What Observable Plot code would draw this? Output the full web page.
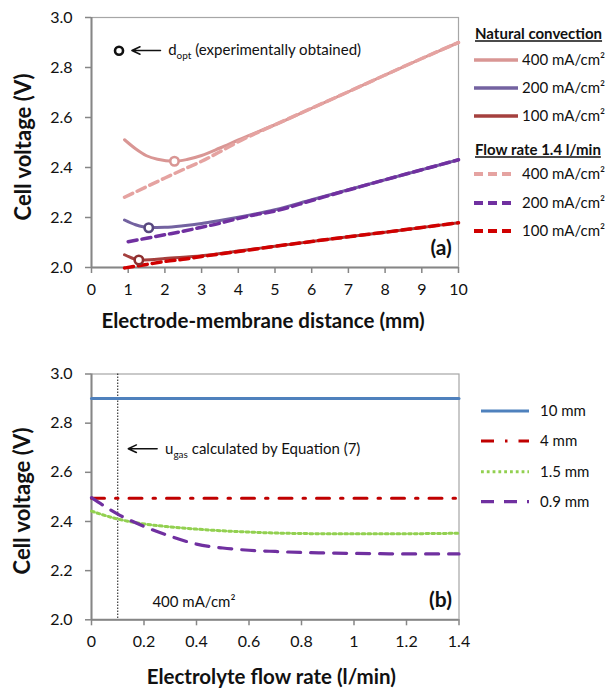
<!DOCTYPE html>
<html><head><meta charset="utf-8">
<script src="https://cdn.jsdelivr.net/npm/d3@7"></script>
<script src="https://cdn.jsdelivr.net/npm/@observablehq/plot@0.6"></script>
<style>
body{margin:0;background:#fff;}
#wrap{position:relative;width:615px;height:696px;font-family:Lato,sans-serif;background:#fff;}
#wrap svg{display:block;position:absolute;left:0;overflow:visible;}
</style></head><body><div id="wrap"></div>
<script>
// ---------- Panel (a) data ----------
const seriesA = ["400 mA/cm²", "200 mA/cm²", "100 mA/cm²"];
const headA = ["Natural convection", "Flow rate 1.4 l/min"];
const titleY = "Cell voltage (V)";
const dNC400 = [0.9,1.2,1.5,1.8,2.25,2.6,3,3.5,4,5,6,7,8,9,10];
const vNC400 = [2.511,2.475,2.447,2.433,2.425,2.432,2.448,2.478,2.51,2.571,2.637,2.703,2.77,2.836,2.9];
const dNC200 = [0.9,1.2,1.56,2,2.5,3,3.5,4,5,6,7,8,9,10];
const vNC200 = [2.19,2.171,2.16,2.161,2.167,2.176,2.188,2.201,2.231,2.271,2.311,2.351,2.391,2.431];
const dNC100 = [0.9,1.1,1.29,1.6,2,3,4,5,6,7,8,9,10];
const vNC100 = [2.051,2.038,2.03,2.031,2.036,2.047,2.066,2.085,2.104,2.123,2.141,2.16,2.179];
const dFR400 = [0.9,1.5,2,2.5,3,3.5,4,5,6,7,8,9,10];
const vFR400 = [2.281,2.323,2.358,2.392,2.425,2.463,2.503,2.571,2.637,2.703,2.77,2.836,2.9];
const dFR200 = [1,1.5,2,2.56,3,3.5,3.92,4.5,5,6,7,8,9,10];
const vFR200 = [2.103,2.117,2.131,2.147,2.161,2.177,2.193,2.212,2.226,2.268,2.31,2.351,2.391,2.431];
const dFR100 = [0.9,1.5,2,2.56,3,4,5,6,7,8,9,10];
const vFR100 = [1.998,2.012,2.024,2.034,2.044,2.064,2.085,2.104,2.123,2.141,2.16,2.179];
// optimum distances (circles)
const dOpt = [2.26, 1.56, 1.29];
const vOpt = [2.425, 2.159, 2.03];
const xTicksA = [0,1,2,3,4,5,6,7,8,9,10];
const yTicks = [2.0,2.2,2.4,2.6,2.8,3.0];
const yTickLabels = ["2.0","2.2","2.4","2.6","2.8","3.0"];

// ---------- Panel (b) data ----------
const seriesB = ["10 mm", "4 mm", "1.5 mm", "0.9 mm"];
const flow = [0,0.1,0.2,0.3,0.4,0.5,0.6,0.7,0.8,0.9,1.0,1.1,1.2,1.3,1.4];
const v10 = [2.9,2.9,2.9,2.9,2.9,2.9,2.9,2.9,2.9,2.9,2.9,2.9,2.9,2.9,2.9];
const v4 = [2.495,2.495,2.495,2.495,2.495,2.495,2.495,2.495,2.495,2.495,2.495,2.495,2.495,2.495,2.495];
const v15 = [2.442,2.41,2.39,2.378,2.369,2.362,2.357,2.353,2.351,2.35,2.35,2.35,2.35,2.351,2.352];
const v09 = [2.497,2.43,2.38,2.34,2.308,2.292,2.283,2.278,2.274,2.272,2.27,2.269,2.268,2.268,2.268];
const xTicksB = [0,0.2,0.4,0.6,0.8,1.0,1.2,1.4];
const xTickLabelsB = ["0","0.2","0.4","0.6","0.8","1","1.2","1.4"];
const ugasFlow = 0.1;

// ---------- styles ----------
const stA = [
  {d:dNC400, v:vNC400, color:"#D99694", dash:null, w:3},
  {d:dNC200, v:vNC200, color:"#7362A0", dash:null, w:3},
  {d:dNC100, v:vNC100, color:"#A5403E", dash:null, w:3},
  {d:dFR400, v:vFR400, color:"#E5A3A1", dash:"9,5", w:3.5},
  {d:dFR200, v:vFR200, color:"#7030A0", dash:"9,5", w:3.5},
  {d:dFR100, v:vFR100, color:"#D00000", dash:"9,5", w:3.5}
];
const circleColors = ["#D99694", "#58487F", "#8E2F2F"];
const stB = [
  {v:v10, color:"#4F81BD", dash:null, w:3},
  {v:v4, color:"#C00000", dash:"13,11,2.5,11", w:3},
  {v:v15, color:"#92D050", dash:"2.8,3", w:3},
  {v:v09, color:"#7030A0", dash:"13,10", w:3.2}
];

const axisGray = "#868686";
const frameGray = "#A6A6A6";

function postFix(svg) {
  d3.select(svg).selectAll("text").each(function() {
    const t = this.textContent;
    if (t.includes("|")) {
      const [a, b, c] = t.split("|");
      const el = d3.select(this);
      el.text(null);
      el.append("tspan").text(a);
      el.append("tspan").attr("dy", "4").attr("font-size", "10").text(b);
      el.append("tspan").attr("dy", "-4").text(c);
    }
  });
}
function addYTitle(svg, cx, cy) {
  d3.select(svg).append("text")
    .attr("transform", `translate(${cx},${cy}) rotate(-90)`)
    .attr("text-anchor", "middle").attr("dy", "0.35em")
    .attr("font-family", "Lato, sans-serif").attr("font-size", 22).attr("font-weight", "bold").attr("fill", "#111")
    .text(titleY);
}

// ---------- Chart (a) ----------
const markA = [];
markA.push(Plot.frame({stroke: frameGray, strokeWidth: 1.2}));
markA.push(Plot.ruleX([0], {stroke: axisGray, strokeWidth: 2}));
markA.push(Plot.ruleY([2], {stroke: axisGray, strokeWidth: 2}));
markA.push(Plot.axisX({ticks: xTicksA, tickSize: 6, tickPadding: 10, fontSize: 16, stroke: axisGray, strokeWidth: 1.5, fill: "#111", label: null}));
markA.push(Plot.axisY({ticks: yTicks, tickFormat: (d, i) => yTickLabels[i], tickSize: 6, tickPadding: 13, fontSize: 16, stroke: axisGray, strokeWidth: 1.5, fill: "#111", label: null}));
stA.forEach(s => {
  markA.push(Plot.line(s.d.map((d, i) => ({d, v: s.v[i]})), {x: "d", y: "v", curve: "monotone-x", stroke: s.color, strokeWidth: s.w, strokeDasharray: s.dash}));
});
markA.push(Plot.dot(dOpt.map((d, i) => ({d, v: vOpt[i], c: circleColors[i]})), {x: "d", y: "v", r: 4.2, stroke: "c", fill: "white", strokeWidth: 2.6}));
// annotation
markA.push(Plot.dot([{d: 0.75, v: 2.867}], {x: "d", y: "v", r: 4, stroke: "#111", fill: "white", strokeWidth: 2.6}));
markA.push(Plot.arrow([{x1: 1.88, x2: 1.1, y: 2.868}], {x1: "x1", x2: "x2", y1: "y", y2: "y", stroke: "#111", strokeWidth: 1.5, headLength: 9, headAngle: 50}));
markA.push(Plot.text(["d|opt| (experimentally obtained)"], {x: 2.09, y: 2.868, textAnchor: "start", fontSize: 15, fill: "#111"}));
markA.push(Plot.text(["(a)"], {x: 9.82, y: 2.078, textAnchor: "end", fontSize: 21, fontWeight: "bold", fill: "#111"}));
markA.push(Plot.text(["Electrode-membrane distance (mm)"], {frameAnchor: "bottom", textAnchor: "middle", dy: 60, dx: -12, fontSize: 20.5, fontWeight: "bold", fill: "#111"}));

const chartA = Plot.plot({
  width: 615, height: 345,
  marginLeft: 91, marginRight: 157, marginTop: 17, marginBottom: 78,
  style: {fontFamily: "Lato, sans-serif", background: "transparent"},
  x: {domain: [0, 10], label: null},
  y: {domain: [2, 3], label: null},
  color: {type: "identity"},
  marks: markA
});
postFix(chartA);
addYTitle(chartA, 23, 147);
chartA.style.top = "0px";

// legend (a)
{
  const g = d3.select(chartA).append("g").attr("font-family", "Lato, sans-serif").attr("fill", "#111").attr("text-anchor", "start");
  const rowsY = [[60, 88, 116], [174, 203, 231]];
  const headY = [34, 150];
  headA.forEach((h, k) => {
    g.append("text").attr("x", 475).attr("y", headY[k]).attr("dy", "0.35em").attr("font-size", 15).attr("font-weight", "bold").style("text-decoration", "underline").text(h);
    seriesA.forEach((s, i) => {
      const st = stA[k * 3 + i];
      g.append("line").attr("x1", 474).attr("x2", k === 0 ? 518 : 514).attr("y1", rowsY[k][i]).attr("y2", rowsY[k][i])
        .attr("stroke", st.color).attr("stroke-width", st.w + 0.5).attr("stroke-dasharray", st.dash);
      g.append("text").attr("x", 522).attr("y", rowsY[k][i]).attr("dy", "0.35em").attr("font-size", 15).text(s);
    });
  });
}

// ---------- Chart (b) ----------
const markB = [];
markB.push(Plot.frame({stroke: frameGray, strokeWidth: 1.2}));
markB.push(Plot.ruleX([0], {stroke: axisGray, strokeWidth: 2}));
markB.push(Plot.ruleY([2], {stroke: axisGray, strokeWidth: 2}));
markB.push(Plot.axisX({ticks: xTicksB, tickFormat: (d, i) => xTickLabelsB[i], tickSize: 6, tickPadding: 10, fontSize: 16, stroke: axisGray, strokeWidth: 1.5, fill: "#111", label: null}));
markB.push(Plot.axisY({ticks: yTicks, tickFormat: (d, i) => yTickLabels[i], tickSize: 6, tickPadding: 13, fontSize: 16, stroke: axisGray, strokeWidth: 1.5, fill: "#111", label: null}));
markB.push(Plot.ruleX([ugasFlow], {stroke: "#111", strokeWidth: 1, strokeDasharray: "1.5,1.5"}));
stB.forEach(s => {
  markB.push(Plot.line(flow.map((f, i) => ({f, v: s.v[i]})), {x: "f", y: "v", curve: "monotone-x", stroke: s.color, strokeWidth: s.w, strokeDasharray: s.dash}));
});
markB.push(Plot.arrow([{x1: 0.25, x2: 0.14, y: 2.696}], {x1: "x1", x2: "x2", y1: "y", y2: "y", stroke: "#111", strokeWidth: 1.5, headLength: 9, headAngle: 50}));
markB.push(Plot.text(["u|gas| calculated by Equation (7)"], {x: 0.28, y: 2.696, textAnchor: "start", fontSize: 15, fill: "#111"}));
markB.push(Plot.text(["400 mA/cm²"], {x: 0.232, y: 2.072, textAnchor: "start", fontSize: 15, fill: "#111"}));
markB.push(Plot.text(["(b)"], {x: 1.373, y: 2.078, textAnchor: "end", fontSize: 21, fontWeight: "bold", fill: "#111"}));
markB.push(Plot.text(["Electrolyte flow rate (l/min)"], {frameAnchor: "bottom", textAnchor: "middle", dy: 64, dx: -4, fontSize: 20.5, fontWeight: "bold", fill: "#111"}));

const chartB = Plot.plot({
  width: 615, height: 351,
  marginLeft: 91, marginRight: 156.5, marginTop: 28.5, marginBottom: 76.7,
  style: {fontFamily: "Lato, sans-serif", background: "transparent"},
  x: {domain: [0, 1.4], label: null},
  y: {domain: [2, 3], label: null},
  marks: markB
});
postFix(chartB);
addYTitle(chartB, 22, 156);
chartB.style.top = "345px";

// legend (b)
{
  const g = d3.select(chartB).append("g").attr("font-family", "Lato, sans-serif").attr("fill", "#111").attr("text-anchor", "start");
  const rowsY = [66, 96, 126.7, 156.7];
  seriesB.forEach((s, i) => {
    const st = stB[i];
    g.append("line").attr("x1", 481).attr("x2", 529).attr("y1", rowsY[i]).attr("y2", rowsY[i])
      .attr("stroke", st.color).attr("stroke-width", st.w).attr("stroke-dasharray", st.dash);
    g.append("text").attr("x", 540).attr("y", rowsY[i]).attr("dy", "0.35em").attr("font-size", 15).text(s);
  });
}

const wrap = document.getElementById("wrap");
wrap.appendChild(chartA);
wrap.appendChild(chartB);
</script></body></html>
